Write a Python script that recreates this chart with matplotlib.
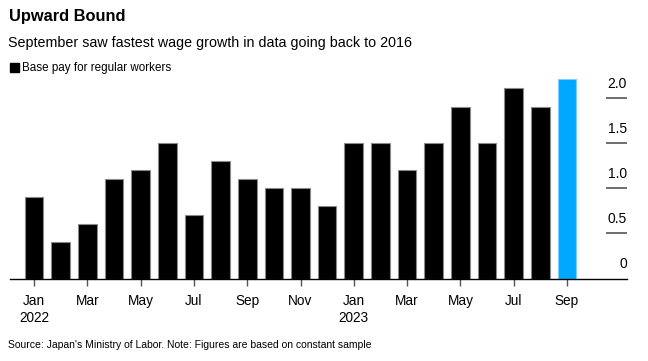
import matplotlib
matplotlib.use("Agg")
import matplotlib.pyplot as plt
import numpy as np

plt.rcParams['font.family'] = ['Liberation Sans', 'DejaVu Sans']

months = ["Jan", "Feb", "Mar", "Apr", "May", "Jun", "Jul", "Aug", "Sep", "Oct", "Nov", "Dec",
          "Jan", "Feb", "Mar", "Apr", "May", "Jun", "Jul", "Aug", "Sep"]
years = ["2022"] * 12 + ["2023"] * 9
values = [0.9, 0.4, 0.6, 1.1, 1.2, 1.5, 0.7, 1.3, 1.1, 1.0, 1.0, 0.8,
          1.5, 1.5, 1.2, 1.5, 1.9, 1.5, 2.1, 1.9, 2.2]
yticks = [0, 0.5, 1.0, 1.5, 2.0]
ytick_labels = ["0", "0.5", "1.0", "1.5", "2.0"]

W, H = 648, 361
fig = plt.figure(figsize=(W / 100, H / 100), dpi=100)

ax_left, ax_right = 10, 627
ax_bottom, ax_top = 278.5, 75
ax = fig.add_axes([ax_left / W, 1 - ax_bottom / H, (ax_right - ax_left) / W, (ax_bottom - ax_top) / H])

x = np.arange(len(values))
colors = ["#000000"] * (len(values) - 1) + ["#00A9FF"]
edges = ["#8a8a8a"] * (len(values) - 1) + ["#7fd0ff"]
ax.bar(x, values, width=0.7, color=colors, edgecolor=edges, linewidth=0.8, zorder=2)

ax.set_xlim(-0.9, 22.25)
ax.set_ylim(0, (ax_bottom - ax_top) / 90.5)

for s in ["top", "right", "left"]:
    ax.spines[s].set_visible(False)
ax.spines["bottom"].set_color("#000000")
ax.spines["bottom"].set_linewidth(1.0)
ax.spines["bottom"].set_zorder(3)

tick_pos = x[::2]
tick_lbls = []
for i in tick_pos:
    lbl = months[i]
    if months[i] == "Jan":
        lbl += "\n" + years[i]
    tick_lbls.append(lbl)
ax.set_xticks(tick_pos)
ax.set_xticklabels(tick_lbls, fontsize=9.8, linespacing=1.25, va="top")
ax.tick_params(axis="x", length=5, width=1, color="#555555", pad=6)
ax.set_yticks([])

# right-side short gridlines with labels above them
for v in yticks[1:]:
    ax.plot([21.45, 22.25], [v, v], color="#555555", lw=1.2, solid_capstyle="butt", clip_on=False, zorder=1)
offset = matplotlib.transforms.ScaledTranslation(0, 7 / 100, fig.dpi_scale_trans)
for v, t in zip(yticks, ytick_labels):
    ax.text(22.25, v, t, ha="right", va="bottom", fontsize=10, transform=ax.transData + offset)

fig.text(9 / W, 1 - 17 / H, "Upward Bound", fontsize=11.8, fontweight="bold", va="center", ha="left")
fig.text(8 / W, 1 - 43 / H, "September saw fastest wage growth in data going back to 2016",
         fontsize=10.3, va="center", ha="left")
fig.patches.append(matplotlib.patches.Rectangle((10 / W, 1 - 72 / H), 9 / W, 9 / H,
                                                transform=fig.transFigure, color="black"))
fig.text(22 / W, 1 - 67.5 / H, "Base pay for regular workers", fontsize=8.4, va="center", ha="left")
fig.text(8 / W, 1 - 345 / H, "Source: Japan's Ministry of Labor. Note: Figures are based on constant sample",
         fontsize=7.5, va="center", ha="left")

fig.savefig("out.png", dpi=100)
